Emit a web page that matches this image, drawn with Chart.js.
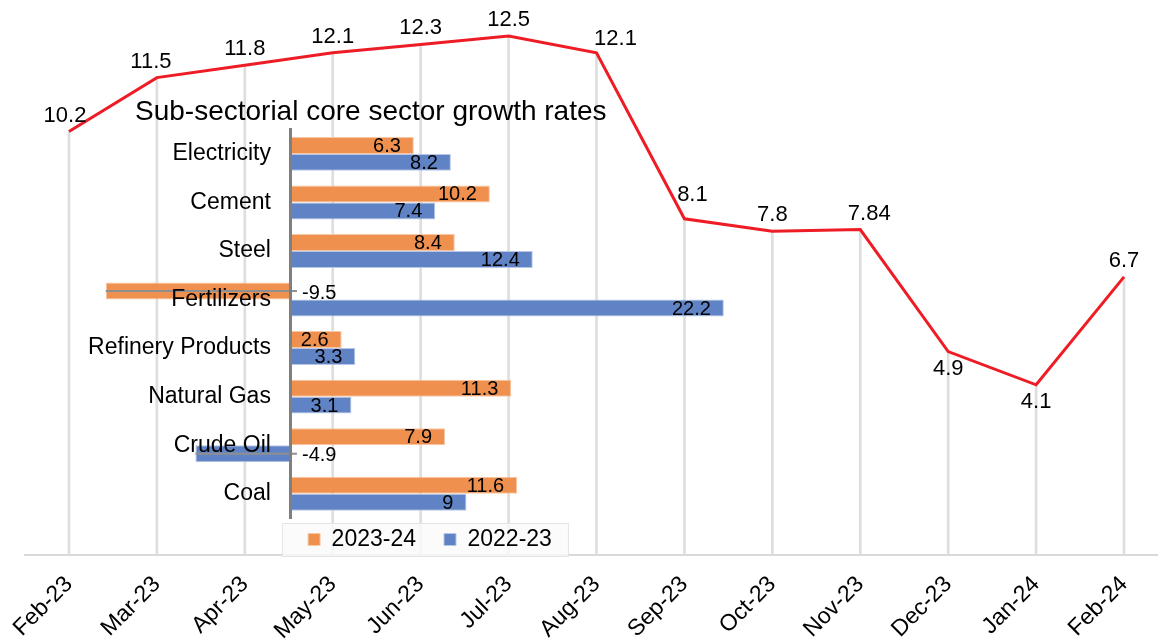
<!DOCTYPE html>
<html>
<head>
<meta charset="utf-8">
<script src="https://cdn.jsdelivr.net/npm/chart.js@4.4.1/dist/chart.umd.min.js"></script>
<style>
html,body{margin:0;padding:0;background:#fff;overflow:hidden;}
#wrap{position:relative;width:1158px;height:642px;overflow:hidden;}
#mainChart{position:absolute;left:0;top:0;}
#insetChart{position:absolute;left:0;top:90px;}
</style>
</head>
<body>
<div id="wrap">
  <canvas id="mainChart" width="1170" height="642"></canvas>
  <canvas id="insetChart" width="760" height="489"></canvas>
</div>
<script>
// monthly core sector growth (line)
const months=["Feb-23","Mar-23","Apr-23","May-23","Jun-23","Jul-23","Aug-23","Sep-23","Oct-23","Nov-23","Dec-23","Jan-24","Feb-24"];
const growth=[10.2,11.5,11.8,12.1,12.3,12.5,12.1,8.1,7.8,7.84,4.9,4.1,6.7];

// inset: sub-sectorial growth rates
const insetTitle="Sub-sectorial core sector growth rates";
const sectors=["Electricity","Cement","Steel","Fertilizers","Refinery Products","Natural Gas","Crude Oil","Coal"];
const seriesNames=["2023-24","2022-23"];
const fy2324=[6.3,10.2,8.4,-9.5,2.6,11.3,7.9,11.6];
const fy2223=[8.2,7.4,12.4,22.2,3.3,3.1,-4.9,9];

const FONT='"Liberation Sans", Arial, sans-serif';
Chart.defaults.font.family=FONT;
Chart.defaults.color="#000";

// label placement tweaks (like the hand-moved labels in the original)
const labelBelow=[10,11];
const labelNudge={0:[-4,0],1:[-6,0],6:[19,2],7:[8,-8],9:[9,0]};

const lineLabels={
  id:"lineLabels",
  afterDatasetsDraw(chart){
    const ctx=chart.ctx;
    const meta=chart.getDatasetMeta(0);
    ctx.save();
    ctx.font="22px "+FONT;
    ctx.fillStyle="#000";
    ctx.textAlign="center";
    ctx.textBaseline="middle";
    meta.data.forEach((pt,i)=>{
      const n=labelNudge[i]||[0,0];
      const dy=labelBelow.includes(i)?17:-16;
      ctx.fillText(String(growth[i]),pt.x+n[0],pt.y+dy+n[1]);
    });
    ctx.restore();
  }
};

const barLabels={
  id:"barLabels",
  afterDatasetsDraw(chart){
    const ctx=chart.ctx;
    ctx.save();
    ctx.font="20px "+FONT;
    ctx.textBaseline="middle";
    chart.data.datasets.forEach((ds,d)=>{
      chart.getDatasetMeta(d).data.forEach((bar,i)=>{
        const v=ds.data[i];
        if(v>=0){
          ctx.fillStyle="#000";
          ctx.textAlign="right";
          ctx.fillText(String(v),bar.x-13,bar.y+1);
        }else{
          ctx.strokeStyle="#8f8f8f";
          ctx.lineWidth=2;
          ctx.beginPath();
          ctx.moveTo(bar.x,bar.y);
          ctx.lineTo(bar.base+6,bar.y);
          ctx.stroke();
          ctx.fillStyle="#000";
          ctx.textAlign="left";
          ctx.fillText(String(v),bar.base+11,bar.y+2);
        }
      });
    });
    ctx.restore();
  }
};

// pull the legend up close to the plot, keeping wide item spacing
const legendShift={
  id:"legendShift",
  afterLayout(chart){
    const lg=chart.legend;
    if(!lg)return;
    lg.top-=18;
    lg.bottom-=18;
  }
};

const legendBox={
  id:"legendBox",
  beforeDraw(chart){
    const hb=chart.legend&&chart.legend.legendHitBoxes;
    if(!hb||!hb.length)return;
    const l=Math.min(...hb.map(h=>h.left))-26;
    const r=Math.max(...hb.map(h=>h.left+h.width))+16;
    const t=hb[0].top-5;
    const b=hb[0].top+hb[0].height+5;
    const ctx=chart.ctx;
    ctx.save();
    ctx.fillStyle="rgba(250,250,250,0.8)";
    ctx.strokeStyle="#e4e4e4";
    ctx.lineWidth=1;
    ctx.fillRect(l,t,r-l,b-t);
    ctx.strokeRect(l+0.5,t+0.5,r-l,b-t);
    ctx.restore();
  }
};

new Chart(document.getElementById("mainChart"),{
  type:"line",
  data:{
    labels:months,
    datasets:[
      {type:"line",data:growth,borderColor:"#ee1c25",borderWidth:3,pointRadius:0,tension:0,order:1},
      {type:"bar",data:growth,backgroundColor:"#dedede",barThickness:2,order:2}
    ]
  },
  options:{
    responsive:false,
    animation:false,
    layout:{padding:{left:25,right:2,top:0,bottom:0}},
    plugins:{legend:{display:false},tooltip:{enabled:false}},
    scales:{
      x:{
        offset:true,
        grid:{display:false,drawTicks:false},
        border:{color:"#d9d9d9",width:2},
        ticks:{color:"#000",font:{size:23},minRotation:45,maxRotation:45,padding:16,autoSkip:false},
        afterFit(s){s.height=87;}
      },
      y:{display:false,min:0,max:13.37}
    }
  },
  plugins:[lineLabels]
});

new Chart(document.getElementById("insetChart"),{
  type:"bar",
  data:{
    labels:sectors,
    datasets:[
      {label:seriesNames[0],data:fy2324,backgroundColor:"#f0904f",borderColor:"#f7c7a6",borderWidth:1,clip:false,categoryPercentage:0.7,barPercentage:1},
      {label:seriesNames[1],data:fy2223,backgroundColor:"#5f83c4",borderColor:"#b6c6e4",borderWidth:1,clip:false,categoryPercentage:0.7,barPercentage:1}
    ]
  },
  options:{
    indexAxis:"y",
    responsive:false,
    animation:false,
    layout:{padding:{left:135,right:35,top:0,bottom:0}},
    plugins:{
      title:{display:true,text:insetTitle,align:"start",color:"#000",font:{size:28,weight:"normal"},padding:{top:5,bottom:1}},
      legend:{position:"bottom",labels:{color:"#000",font:{size:23},boxWidth:12,boxHeight:12,padding:28}},
      tooltip:{enabled:false}
    },
    scales:{
      x:{display:false,min:-8,max:22.26},
      // category names, set just left of the zero line
      y:{
        position:{x:-1.03},
        grid:{display:false,drawTicks:false},
        border:{display:false},
        ticks:{color:"#000",font:{size:23},padding:0,z:1}
      },
      // the zero line itself
      y2:{
        type:"category",
        axis:"y",
        offset:true,
        position:{x:0},
        grid:{display:true,color:"transparent",drawTicks:false},
        border:{color:"#7f7f7f",width:3,z:1},
        ticks:{display:false}
      }
    }
  },
  plugins:[legendShift,legendBox,barLabels]
});
</script>
</body>
</html>
